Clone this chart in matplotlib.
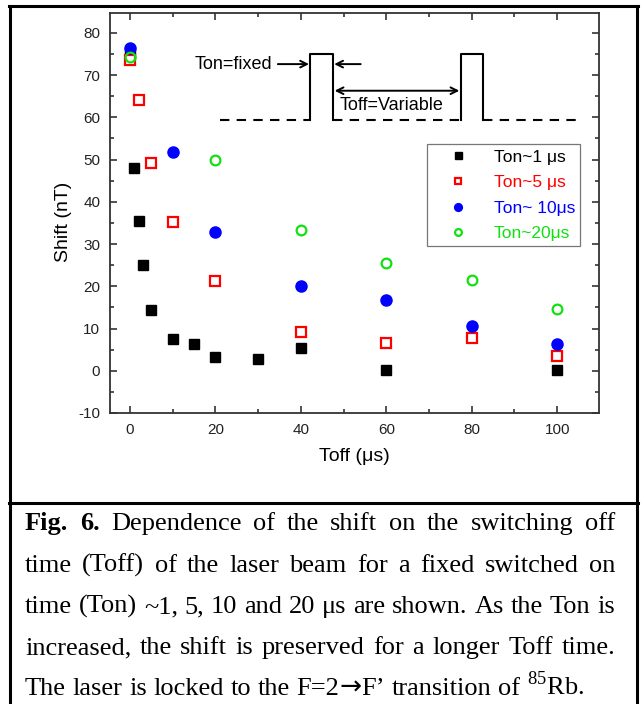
import matplotlib
matplotlib.use("Agg")
import matplotlib.pyplot as plt
from matplotlib.lines import Line2D

plt.rcParams['font.family'] = ['Liberation Sans', 'DejaVu Sans']
plt.rcParams['mathtext.fontset'] = 'custom'
plt.rcParams['mathtext.rm'] = 'Liberation Serif'
plt.rcParams['axes.unicode_minus'] = False

# data: Toff (us) vs shift (nT)
toff_1 = [0, 1, 2, 3, 5, 10, 15, 20, 30, 40, 60, 100]
shift_1 = [75.0, 48.0, 35.5, 25.0, 14.5, 7.5, 6.3, 3.2, 2.8, 5.3, 0.2, 0.2]

toff_5 = [0, 2, 5, 10, 20, 40, 60, 80, 100]
shift_5 = [73.5, 64.0, 49.3, 35.3, 21.2, 9.2, 6.5, 7.7, 3.4]

toff_10 = [0, 10, 20, 40, 60, 80, 100]
shift_10 = [76.5, 51.8, 32.8, 20.0, 16.8, 10.5, 6.3]

toff_20 = [0, 20, 40, 60, 80, 100]
shift_20 = [74.3, 50.0, 33.3, 25.4, 21.6, 14.6]

labels = ['Ton~1 \u03bcs', 'Ton~5 \u03bcs', 'Ton~ 10\u03bcs', 'Ton~20\u03bcs']
colors = ['black', '#ff0000', '#0000ff', '#11e011']

# pulse schematic (drawn in data units)
base_y = 59.4
pulse_top = 75.0
pulse_1 = (42.2, 47.5)
pulse_2 = (77.5, 82.7)
dash_ends = (21.0, 105.0)

caption = [
    "Fig. 6. Dependence of the shift on the switching off",
    "time (Toff) of the laser beam for a fixed switched on",
    "time (Ton) ~1, 5, 10 and 20 \u03bcs are shown. As the Ton is",
    "increased, the shift is preserved for a longer Toff time.",
    "The laser is locked to the F=2\u2192F\u2019 transition of $^{85}$Rb.",
]

W, H = 642, 704
fig = plt.figure(figsize=(W / 100, H / 100), dpi=100)
ax = fig.add_axes([110 / W, 1 - 413 / H, (599 - 110) / W, (413 - 13) / H])

ax.plot(toff_1, shift_1, 's', ms=7.2, color=colors[0], label=labels[0], zorder=3)
ax.plot(toff_5, shift_5, 's', ms=6.5, mfc='white', mec=colors[1], mew=1.6,
        label=labels[1], zorder=3)
ax.plot(toff_10, shift_10, 'o', ms=8, color=colors[2], label=labels[2], zorder=3)
ax.plot(toff_20, shift_20, 'o', ms=7, mfc='none', mec=colors[3], mew=1.6,
        label=labels[3], zorder=3)

ax.set_xlim(-4.7, 109.8)
ax.set_ylim(-10, 84.7)
ax.set_xticks(range(0, 101, 20))
ax.set_xticks(range(10, 110, 20), minor=True)
ax.set_yticks(range(-10, 81, 10))
ax.set_yticks(range(-5, 85, 10), minor=True)
ax.tick_params(which='both', direction='in', top=True, right=True,
               color='#333333', labelsize=11, labelcolor='#222222', width=1.2)
ax.tick_params(which='major', length=5)
ax.tick_params(which='minor', length=3)
ax.tick_params(axis='y', pad=7)
ax.tick_params(axis='x', pad=7)
for s in ax.spines.values():
    s.set_color('#333333')
    s.set_linewidth(1.3)

ax.set_xlabel('Toff (\u03bcs)', fontsize=14, labelpad=8)
ax.set_ylabel('Shift (nT)', fontsize=14)
ax.yaxis.set_label_coords(-0.078, 0.478)

leg = ax.legend(loc='upper right', bbox_to_anchor=(0.962, 0.672), fontsize=12.5,
                frameon=True, fancybox=False, edgecolor='#555555',
                markerscale=0.7, handlelength=3.0, handletextpad=0.55,
                labelspacing=0.6, borderpad=0.3, borderaxespad=0)
leg.get_frame().set_linewidth(0.9)
for t, c in zip(leg.get_texts(), colors):
    t.set_color(c)

# schematic of the pulse train
dash = dict(color='black', lw=1.5, linestyle=(0, (4.5, 3.5)))
ax.plot([dash_ends[0], pulse_1[0]], [base_y, base_y], **dash)
ax.plot([pulse_1[1], pulse_2[0]], [base_y, base_y], **dash)
ax.plot([pulse_2[1], dash_ends[1]], [base_y, base_y], **dash)
for p in (pulse_1, pulse_2):
    ax.plot([p[0], p[0], p[1], p[1]], [base_y, pulse_top, pulse_top, base_y],
            color='black', lw=1.5)

arr = dict(arrowstyle='->', lw=1.4, color='black', shrinkA=0, shrinkB=0,
           mutation_scale=12)
ax.text(15.2, 72.6, 'Ton=fixed', fontsize=13, va='center')
ax.annotate('', xy=(pulse_1[0] - 0.3, 72.6), xytext=(34.6, 72.6), arrowprops=arr)
ax.annotate('', xy=(pulse_1[1] + 0.3, 72.6), xytext=(54.0, 72.6), arrowprops=arr)
ax.annotate('', xy=(pulse_2[0] - 0.4, 66.3), xytext=(pulse_1[1] + 0.4, 66.3),
            arrowprops=dict(arr, arrowstyle='<->'))
ax.text(49.0, 62.7, 'Toff=Variable', fontsize=13, va='center')

# outer frame and separator
frame = dict(color='black', lw=2.2, transform=fig.transFigure)
fig.add_artist(Line2D([10 / W, 10 / W], [0, 1 - 6 / H], **frame))
fig.add_artist(Line2D([637 / W, 637 / W], [0, 1 - 6 / H], **frame))
fig.add_artist(Line2D([9 / W, 638 / W], [1 - 6 / H, 1 - 6 / H], **frame))
fig.add_artist(Line2D([9 / W, 638 / W], [1 - 503 / H, 1 - 503 / H], **frame))

# justified caption, word by word
renderer = fig.canvas.get_renderer()
cap_fs = 19
serif = ['Liberation Serif', 'DejaVu Serif']
x_left, x_right = 25, 615
baselines = [530, 572, 613, 654, 695]


def word_pieces(w, yb, bold):
    # a word may hold an arrow, which is drawn larger in DejaVu Sans
    if '\u2192' in w:
        a, b = w.split('\u2192')
        parts = [(a, serif), ('\u2192', ['DejaVu Sans']), (b, serif)]
    else:
        parts = [(w, serif)]
    out = []
    for txt, fam in parts:
        out.append(fig.text(0, 1 - yb / H, txt, fontsize=cap_fs, family=fam,
                            weight='bold' if bold else 'normal',
                            va='baseline', ha='left'))
    return out


for i, (line, yb) in enumerate(zip(caption, baselines)):
    words = line.split(' ')
    groups = [word_pieces(w, yb, i == 0 and j < 2) for j, w in enumerate(words)]
    widths = [[t.get_window_extent(renderer).width for t in g] for g in groups]
    total = sum(sum(ws) for ws in widths)
    if i < len(caption) - 1:
        gap = (x_right - x_left - total) / (len(words) - 1)
    else:
        gap = 0.25 * cap_fs * 100 / 72
    x = x_left
    for g, ws in zip(groups, widths):
        for t, w in zip(g, ws):
            t.set_x(x / W)
            x += w
        x += gap

fig.savefig('out.png', dpi=100)
